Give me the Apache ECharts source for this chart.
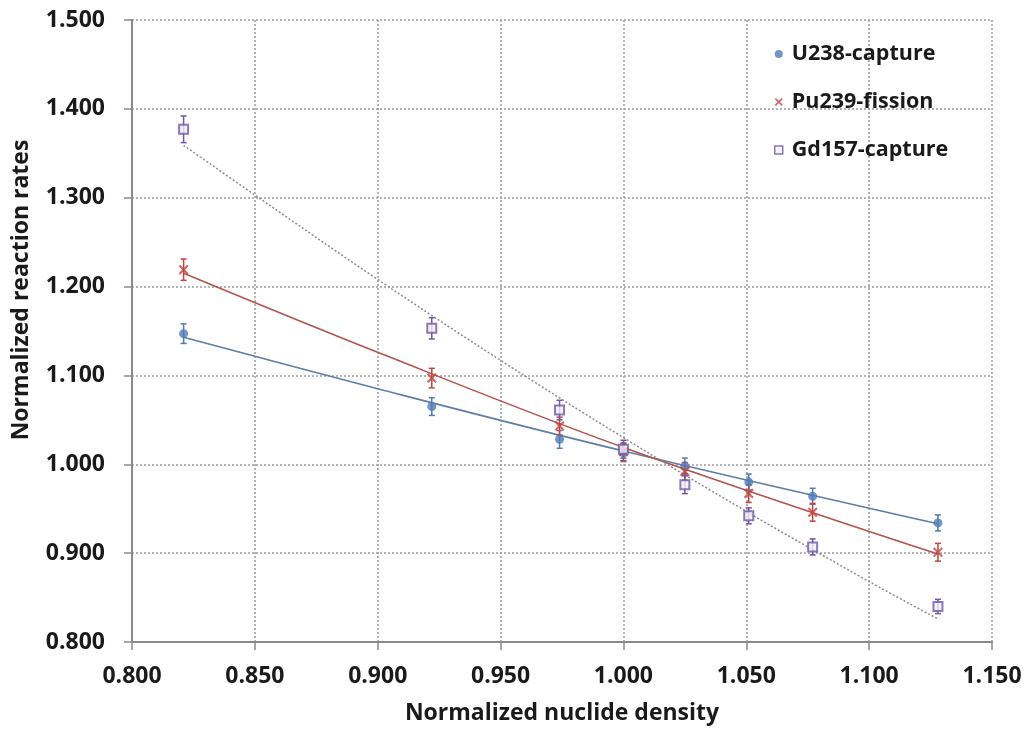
<!DOCTYPE html>
<html>
<head>
<meta charset="utf-8">
<script src="https://cdn.jsdelivr.net/npm/echarts@6/dist/echarts.min.js"></script>
<style>
  html, body { margin: 0; padding: 0; background: #fff; }
  #chart { width: 1030px; height: 733px; }
</style>
</head>
<body>
<div id="chart"></div>
<script>
// Normalized nuclide density (x) and normalized reaction rates (y)
const density = [0.821, 0.922, 0.974, 1.000, 1.025, 1.051, 1.077, 1.128];

const u238Capture  = [1.147, 1.065, 1.028, 1.013, 0.998, 0.980, 0.964, 0.934];
const pu239Fission = [1.219, 1.097, 1.043, 1.014, 0.992, 0.967, 0.946, 0.901];
const gd157Capture = [1.377, 1.153, 1.061, 1.017, 0.977, 0.942, 0.907, 0.840];

// Half-widths of the error bars
const u238Err  = [0.011, 0.010, 0.010, 0.010, 0.009, 0.009, 0.009, 0.009];
const pu239Err = [0.012, 0.011, 0.010, 0.010, 0.010, 0.010, 0.010, 0.010];
const gd157Err = [0.015, 0.012, 0.011, 0.010, 0.010, 0.009, 0.009, 0.008];

// Trend curves through each data set
const u238TrendX  = [0.821, 0.900, 1.000, 1.128];
const u238TrendY  = [1.143, 1.085, 1.015, 0.933];
const pu239TrendX = [0.821, 0.900, 1.000, 1.128];
const pu239TrendY = [1.215, 1.126, 1.019, 0.899];
const gd157TrendX = [0.821, 0.850, 0.900, 0.950, 1.000, 1.050, 1.100, 1.128];
const gd157TrendY = [1.359, 1.303, 1.208, 1.117, 1.030, 0.947, 0.868, 0.826];

const xRange = { min: 0.8, max: 1.15, step: 0.05 };
const yRange = { min: 0.8, max: 1.5, step: 0.1 };

const FONT = '"Open Sans", Lato, sans-serif';
const TEXT = '#1a1a1a';
const AXIS = '#8a8a8a';
const GRID = '#9c9c9c';

const BLUE = '#4f7bb7';
const RED = '#c4433f';
const PURPLE = '#6e58a8';

const X_PATH = 'path://M0,1.5L1.5,0L5,3.5L8.5,0L10,1.5L6.5,5L10,8.5L8.5,10L5,6.5L1.5,10L0,8.5L3.5,5Z';

function pairs(xs, ys) { return xs.map((x, i) => [x, ys[i]]); }

function errorBars(name, values, errs, color) {
  return {
    type: 'custom',
    name: name,
    z: 3,
    silent: true,
    data: density.map((x, i) => [x, values[i] - errs[i], values[i] + errs[i]]),
    encode: { x: 0, y: [1, 2] },
    renderItem(params, api) {
      const x = api.value(0);
      const lo = api.coord([x, api.value(1)]);
      const hi = api.coord([x, api.value(2)]);
      const w = 3;
      const st = { stroke: color, lineWidth: 1.5 };
      return {
        type: 'group',
        children: [
          { type: 'line', shape: { x1: lo[0], y1: lo[1], x2: hi[0], y2: hi[1] }, style: st },
          { type: 'line', shape: { x1: lo[0] - w, y1: lo[1], x2: lo[0] + w, y2: lo[1] }, style: st },
          { type: 'line', shape: { x1: hi[0] - w, y1: hi[1], x2: hi[0] + w, y2: hi[1] }, style: st }
        ]
      };
    }
  };
}

function trend(name, xs, ys, color, type, width) {
  return {
    type: 'line',
    name: name,
    data: pairs(xs, ys),
    showSymbol: false,
    symbol: 'none',
    smooth: 0.35,
    silent: true,
    z: 2,
    lineStyle: { color: color, width: width, type: type }
  };
}

const chart = echarts.init(document.getElementById('chart'), null, { renderer: 'canvas' });

const axisLabelStyle = { fontFamily: FONT, fontWeight: 'bold', fontSize: 23, color: TEXT };

chart.setOption({
  backgroundColor: '#ffffff',
  animation: false,
  textStyle: { fontFamily: FONT },
  grid: { left: 132, right: 38, top: 20, bottom: 91, containLabel: false },
  xAxis: {
    type: 'value',
    min: xRange.min, max: xRange.max, interval: xRange.step,
    name: 'Normalized nuclide density',
    nameLocation: 'middle',
    nameGap: 60,
    nameTextStyle: { fontFamily: FONT, fontWeight: 'bold', fontSize: 23, color: TEXT },
    axisLine: { show: true, lineStyle: { color: AXIS, width: 2 } },
    axisTick: { show: true, length: 8, lineStyle: { color: AXIS, width: 1.5 } },
    axisLabel: Object.assign({ margin: 23, formatter: v => v.toFixed(3) }, axisLabelStyle),
    splitLine: { show: true, lineStyle: { color: GRID, width: 1.5, type: [2, 2] } }
  },
  yAxis: {
    type: 'value',
    min: yRange.min, max: yRange.max, interval: yRange.step,
    axisLine: { show: true, lineStyle: { color: AXIS, width: 2 } },
    axisTick: { show: true, length: 8, lineStyle: { color: AXIS, width: 1.5 } },
    axisLabel: Object.assign({ margin: 27, formatter: v => v.toFixed(3) }, axisLabelStyle),
    splitLine: { show: true, lineStyle: { color: GRID, width: 1.5, type: [2, 2] } }
  },
  graphic: [{
    type: 'text',
    x: 21,
    y: 290,
    rotation: Math.PI / 2,
    style: {
      text: 'Normalized reaction rates',
      fontFamily: FONT, fontWeight: 'bold', fontSize: 23, fill: TEXT,
      textAlign: 'center', textVerticalAlign: 'middle'
    }
  }],
  legend: {
    orient: 'vertical',
    left: 769,
    top: 36,
    itemGap: 22,
    itemWidth: 8,
    itemHeight: 8,
    selectedMode: false,
    textStyle: { fontFamily: FONT, fontWeight: 'bold', fontSize: 21.5, lineHeight: 26, color: TEXT, padding: [0, 0, 0, 4] },
    data: [
      { name: 'U238-capture', icon: 'circle', itemStyle: { color: BLUE } },
      { name: 'Pu239-fission', icon: X_PATH, itemStyle: { color: RED } },
      { name: 'Gd157-capture', icon: 'rect', itemStyle: { color: '#f1eff8', borderColor: PURPLE, borderWidth: 1.5 } }
    ]
  },
  series: [
    trend('U238 trend', u238TrendX, u238TrendY, '#5d7ea6', 'solid', 1.6),
    trend('Pu239 trend', pu239TrendX, pu239TrendY, '#b5524e', 'solid', 1.6),
    trend('Gd157 trend', gd157TrendX, gd157TrendY, '#8c8c8c', [2, 2], 1.5),
    errorBars('U238 error', u238Capture, u238Err, BLUE),
    errorBars('Pu239 error', pu239Fission, pu239Err, RED),
    errorBars('Gd157 error', gd157Capture, gd157Err, PURPLE),
    {
      type: 'scatter', name: 'U238-capture', z: 4,
      data: pairs(density, u238Capture),
      symbol: 'circle', symbolSize: 9,
      itemStyle: { color: BLUE }
    },
    {
      type: 'scatter', name: 'Pu239-fission', z: 4,
      data: pairs(density, pu239Fission),
      symbol: X_PATH, symbolSize: 10,
      itemStyle: { color: RED }
    },
    {
      type: 'scatter', name: 'Gd157-capture', z: 4,
      data: pairs(density, gd157Capture),
      symbol: 'rect', symbolSize: 9,
      itemStyle: { color: '#f1eff8', borderColor: PURPLE, borderWidth: 2 }
    }
  ]
});
</script>
</body>
</html>
